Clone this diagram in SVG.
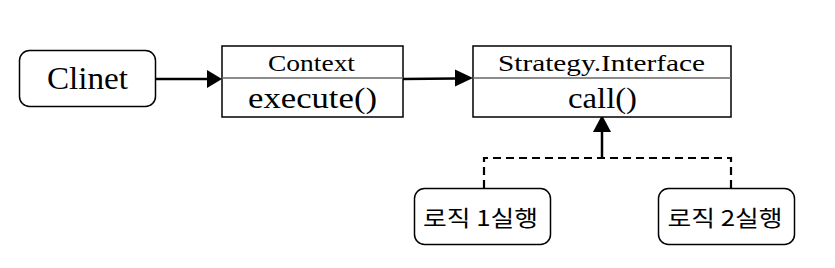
<svg xmlns="http://www.w3.org/2000/svg" width="835" height="268" viewBox="0 0 835 268">
<style>
.box{fill:#fff;stroke:#000;stroke-width:1.5}
.div{stroke:#666;stroke-width:1.5}
.t{font-family:"Liberation Serif","Noto Sans CJK KR",serif;fill:#000;text-anchor:middle}
.k{font-family:"Noto Sans CJK KR","Liberation Serif",serif;fill:#000;text-anchor:middle}
.ln{stroke:#000;stroke-width:2.5;fill:none}
.dash{stroke:#000;stroke-width:2.2;fill:none;stroke-dasharray:8,5}
</style>
<g id="connectors">
<line class="ln" x1="156" y1="79" x2="208" y2="79"/>
<path d="M207,70 L222,79 L207,88 z" fill="#000"/>
<line class="ln" x1="403" y1="79" x2="456" y2="78.5"/>
<path d="M455,69.5 L473,78 L455,86.5 z" fill="#000"/>
<line class="ln" x1="602" y1="158" x2="602" y2="130"/>
<path d="M593,132 L602,115 L611,132 z" fill="#000"/>
<path class="dash" d="M484,188 L484,158 L731,158 L731,188"/>
</g>
<g id="clinet">
<rect class="box" x="19.5" y="50.5" width="136" height="56" rx="10"/>
<text class="t" x="87.5" y="89" font-size="31" textLength="81" lengthAdjust="spacingAndGlyphs">Clinet</text>
</g>
<g id="context">
<rect class="box" x="222" y="46" width="181" height="71"/>
<line class="div" x1="222" y1="78" x2="403" y2="78"/>
<text class="t" x="311.5" y="71" font-size="24" textLength="87" lengthAdjust="spacingAndGlyphs">Context</text>
<text class="t" x="312.5" y="108" font-size="29" textLength="129" lengthAdjust="spacingAndGlyphs">execute()</text>
</g>
<g id="strategy">
<rect class="box" x="473" y="46" width="258" height="71"/>
<line class="div" x1="473" y1="78" x2="731" y2="78"/>
<text class="t" x="601.5" y="71" font-size="23" textLength="207" lengthAdjust="spacingAndGlyphs">Strategy.Interface</text>
<text class="t" x="602.5" y="108" font-size="30" textLength="69" lengthAdjust="spacingAndGlyphs">call()</text>
</g>
<g id="logic1">
<rect class="box" x="414.5" y="188.5" width="136" height="56" rx="10"/>
<text class="k" x="480.5" y="226" font-size="22" textLength="115" lengthAdjust="spacingAndGlyphs">로직 1실행</text>
</g>
<g id="logic2">
<rect class="box" x="658.5" y="188.5" width="136" height="56" rx="10"/>
<text class="k" x="725" y="226" font-size="22" textLength="115" lengthAdjust="spacingAndGlyphs">로직 2실행</text>
</g>
</svg>
